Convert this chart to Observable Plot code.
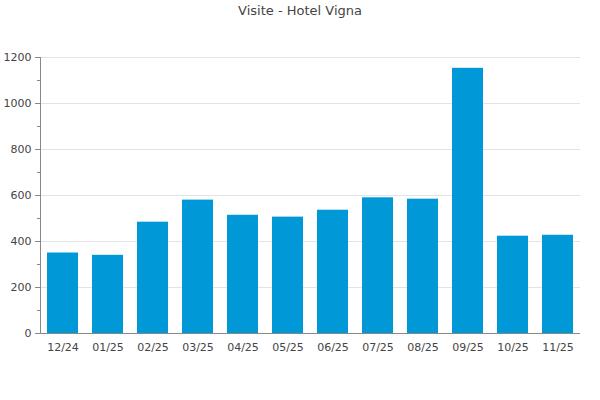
<!DOCTYPE html>
<html>
<head>
<meta charset="utf-8">
<script src="https://cdn.jsdelivr.net/npm/d3@7"></script>
<script src="https://cdn.jsdelivr.net/npm/@observablehq/plot@0.6"></script>
<style>
  html, body { margin: 0; padding: 0; background: #fff; }
  #wrap { position: relative; width: 600px; height: 400px; font-family: "DejaVu Sans", sans-serif; }
  #title { position: absolute; top: 3px; left: 0; width: 600px; text-align: center; font-size: 13px; color: #444; }
  #chart { position: absolute; top: 0; left: 0; }
</style>
</head>
<body>
<div id="wrap">
  <div id="chart"></div>
  <div id="title">Visite - Hotel Vigna</div>
</div>
<script>
const months = ["12/24","01/25","02/25","03/25","04/25","05/25","06/25","07/25","08/25","09/25","10/25","11/25"];
const visits = [350, 340, 484, 580, 514, 506, 536, 590, 584, 1153, 423, 427];
const yTicks = [0, 200, 400, 600, 800, 1000, 1200];
const yMinorTicks = [100, 300, 500, 700, 900, 1100];
const barColor = "#0098d7";

const data = months.map((m, i) => ({month: m, value: visits[i]}));

const chart = Plot.plot({
  width: 600,
  height: 400,
  marginLeft: 40,
  marginRight: 20,
  marginTop: 57,
  marginBottom: 67,
  style: {fontFamily: "DejaVu Sans, sans-serif", fontSize: "11px", color: "#444", background: "#fff"},
  x: {domain: months, paddingInner: 0.31, paddingOuter: 0.155, label: null},
  y: {domain: [0, 1200], label: null},
  marks: [
    Plot.gridY(yTicks, {stroke: "#e3e3e3", strokeOpacity: 1}),
    Plot.barY(data, {x: "month", y: "value", fill: barColor}),
    Plot.axisY(yTicks, {tickSize: 5, tickPadding: 4, tickFormat: d3.format("d"), stroke: "#888", fill: "#444", label: null}),
    Plot.axisY(yMinorTicks, {tickSize: 3, text: null, stroke: "#888", label: null}),
    Plot.frame({anchor: "left", stroke: "#888"}),
    Plot.ruleY([0], {stroke: "#888"}),
    Plot.axisX({tickSize: 0, tickPadding: 10, fill: "#444", label: null})
  ]
});
document.getElementById("chart").appendChild(chart);
</script>
</body>
</html>
